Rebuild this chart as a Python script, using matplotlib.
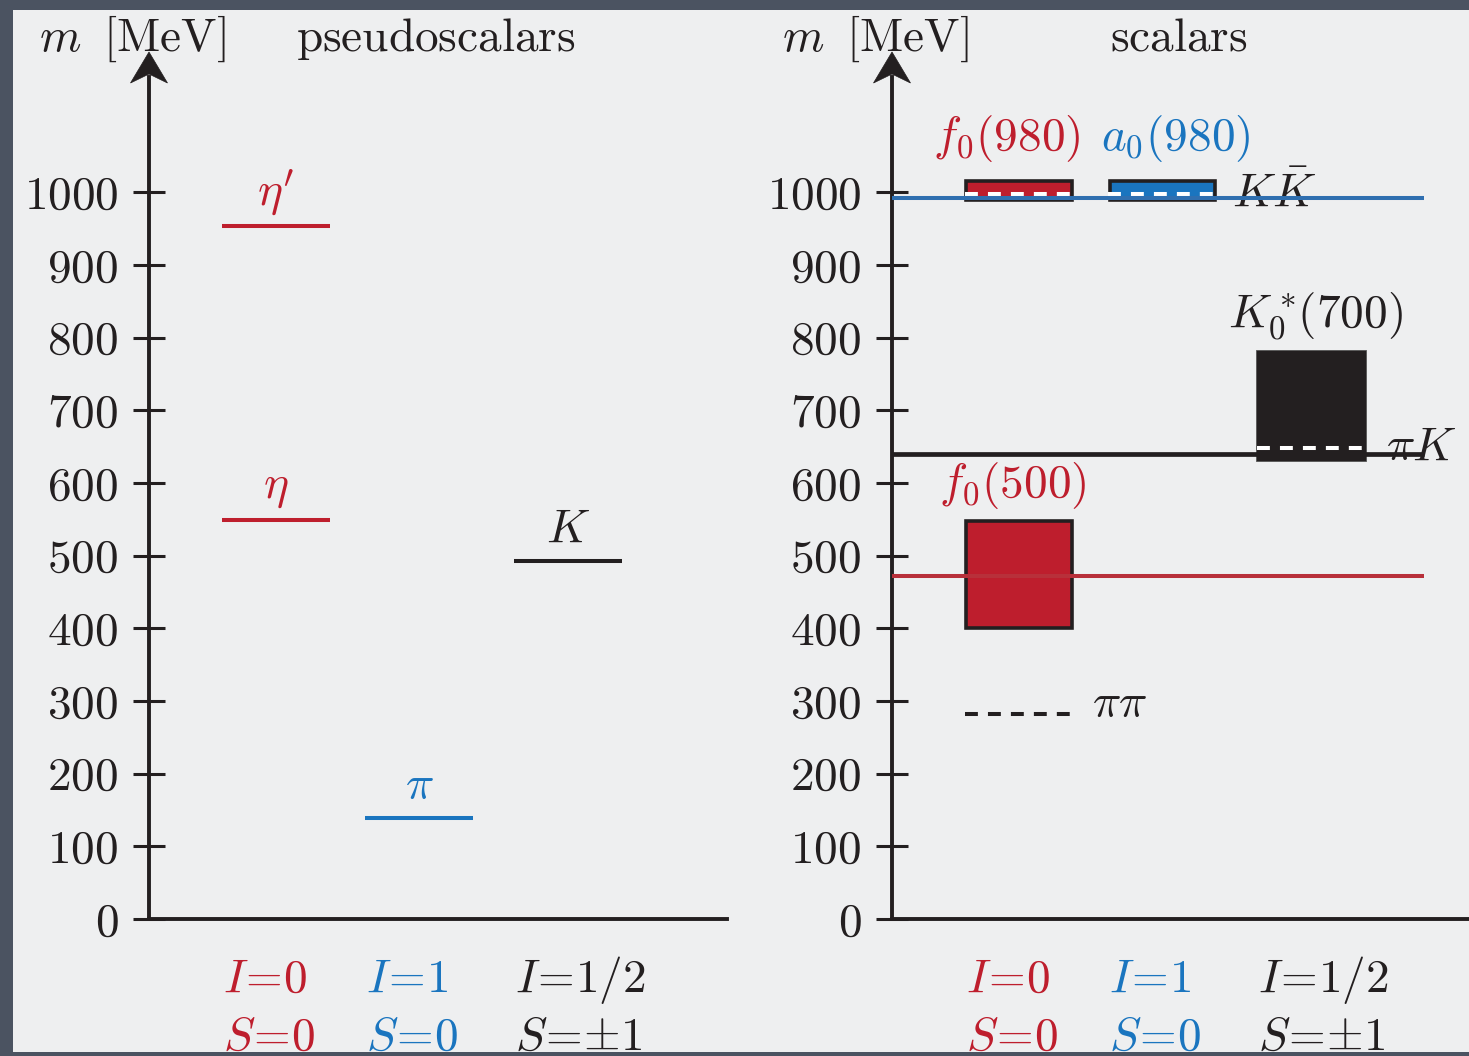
import matplotlib
matplotlib.use("Agg")
import matplotlib.pyplot as plt
from matplotlib.patches import Polygon, Rectangle
from matplotlib.transforms import Affine2D, ScaledTranslation

plt.rcParams["mathtext.fontset"] = "cm"
plt.rcParams["font.family"] = ["cmr10", "DejaVu Serif"]
plt.rcParams["axes.formatter.use_mathtext"] = True

# ---- data -------------------------------------------------------------
mass_ticks = [0, 100, 200, 300, 400, 500, 600, 700, 800, 900, 1000]
tick_labels = [f"${m}$" for m in mass_ticks]

iso_labels = [r"$I\!=\!0$", r"$I\!=\!1$", r"$I\!=\!1/2$"]
strange_labels = [r"$S\!=\!0$", r"$S\!=\!0$", r"$S\!=\!{\pm}1$"]

# pseudoscalar ground states (MeV)
ps_names = [r"$\eta'$", r"$\eta$", r"$\pi$", r"$K$"]
ps_column = [0, 0, 1, 2]
ps_mass = [953, 549, 139, 493]

# scalar resonances: mass bands (MeV)
sc_names = [r"$f_0(500)$", r"$f_0(980)$", r"$a_0(980)$", r"$K_0^*\!(700)$"]
sc_column = [0, 0, 1, 2]
sc_low = [400, 990, 990, 630]
sc_high = [547, 1015, 1015, 783]
sc_line = [472, 992, 992, 640]

# two-meson thresholds (MeV)
thr_names = [r"$\pi\pi$", r"$K\bar{K}$", r"$\pi K$"]
thr_mass = [282, 997, 648]

# ---- style ------------------------------------------------------------
RED, BLUE, BLACK = "#be1e2d", "#1a75bf", "#231f20"
col_colors = [RED, BLUE, BLACK]
line_colors = {0: "#b8303a", 1: "#2f6fb0", 2: BLACK}
col_x = [127, 270, 419]        # column centres, px from the mass axis
half_w = 54
FS = 34

W, H = 1469, 1056
fig = plt.figure(figsize=(W / 100, H / 100), dpi=100)
fig.patch.set_facecolor("#4b5361")
fig.add_artist(Rectangle((13 / W, 4 / H), (W - 13) / W, (1052 - 10) / H,
                         transform=fig.transFigure, facecolor="#eeeff0",
                         edgecolor="none", zorder=0))

px_per_mev = 0.7267
y_top = (919 - 52) / px_per_mev
ax_bottom = (H - 919) / H
ax_height = (919 - 52) / H

ax1 = fig.add_axes([149 / W, ax_bottom, 578 / W, ax_height])
ax2 = fig.add_axes([892 / W, ax_bottom, 577 / W, ax_height])


def setup(ax, xmax, title):
    ax.set_facecolor("none")
    ax.set_xlim(0, xmax)
    ax.set_ylim(0, y_top)
    for s in ("top", "right"):
        ax.spines[s].set_visible(False)
    for s in ("left", "bottom"):
        ax.spines[s].set_linewidth(2.8)
        ax.spines[s].set_color(BLACK)
    ax.spines["left"].set_bounds(0, y_top - 25 / px_per_mev)
    ax.set_xticks([])
    ax.set_yticks(mass_ticks)
    ax.set_yticklabels(tick_labels)
    ax.tick_params(axis="y", direction="inout", length=23, width=2.2,
                   pad=10.5, labelsize=FS, colors=BLACK)
    # arrow head on the mass axis
    head = [(0, 0), (-18.5, -31), (0, -22), (18.5, -31)]
    tr = Affine2D() + ScaledTranslation(0, y_top, ax.transData)
    ax.add_patch(Polygon(head, closed=True, transform=tr, facecolor=BLACK,
                         edgecolor=BLACK, lw=0.5, clip_on=False, zorder=5))
    ax.text(-17, 1195, r"$m\;\;[\mathrm{MeV}]$", fontsize=FS, ha="center",
            va="baseline", color=BLACK)
    ax.text(287, 1195, title, fontsize=FS, ha="center", va="baseline",
            color=BLACK)
    for i in range(3):
        ax.text(col_x[i] - 53, -100, iso_labels[i], fontsize=FS, ha="left",
                va="baseline", color=col_colors[i], clip_on=False)
        ax.text(col_x[i] - 53, -180, strange_labels[i], fontsize=FS, ha="left",
                va="baseline", color=col_colors[i], clip_on=False)


setup(ax1, 578, r"$\mathrm{pseudoscalars}$")
setup(ax2, 577, r"$\mathrm{scalars}$")

# ---- pseudoscalars ----------------------------------------------------
for name, c, m in zip(ps_names, ps_column, ps_mass):
    x = col_x[c]
    ax1.plot([x - half_w, x + half_w], [m, m], color=col_colors[c], lw=2.9,
             solid_capstyle="butt", zorder=3)
    ax1.annotate(name, (x, m), xytext=(0, 7), textcoords="offset points",
                 ha="center", va="bottom", fontsize=FS, color=col_colors[c])

# ---- scalars ----------------------------------------------------------
xs = [col_x[c] for c in sc_column]
heights = [h - l for l, h in zip(sc_low, sc_high)]
fills = [col_colors[c] for c in sc_column]
edges = [BLACK, BLACK, BLACK, "#555555"]
widths = [2 * half_w - 3] * 3 + [2 * half_w + 2]
ax2.bar(xs, heights, bottom=sc_low, width=widths, color=fills,
        edgecolor=edges, linewidth=[2.6, 2.6, 2.6, 0.6], zorder=2)

# threshold lines
dash = dict(lw=2.9, dashes=(3.2, 2.5), zorder=3)
ax2.plot([col_x[0] - half_w, col_x[0] + half_w], [thr_mass[0]] * 2,
         color=BLACK, **dash)
for c in (0, 1):
    ax2.plot([col_x[c] - half_w, col_x[c] + half_w], [thr_mass[1]] * 2,
             color="white", **dash)
ax2.plot([col_x[2] - half_w, col_x[2] + half_w], [thr_mass[2]] * 2,
         color="white", **dash)

# horizontal reference lines across the panel
for m, c, lw in [(sc_line[0], 0, 2.9), (sc_line[1], 1, 2.9), (sc_line[3], 2, 3.4)]:
    ax2.plot([0, 532], [m, m], color=line_colors[c], lw=lw, zorder=4,
             solid_capstyle="butt")

# labels
lbl = dict(fontsize=FS, va="baseline")
ax2.text(121, 581, sc_names[0], ha="center", color=RED, **lbl)
ax2.text(115, 1058, sc_names[1], ha="center", color=RED, **lbl)
ax2.text(284, 1058, sc_names[2], ha="center", color=BLUE, **lbl)
ax2.text(423, 815, sc_names[3], ha="center", color=BLACK, **lbl)
ax2.text(200, 278, thr_names[0], ha="left", color=BLACK, **lbl)
ax2.text(340, 982, thr_names[1], ha="left", color=BLACK, **lbl)
ax2.text(494, 632, thr_names[2], ha="left", color=BLACK, zorder=5, **lbl)

fig.savefig("out.png", dpi=100, facecolor=fig.get_facecolor())
